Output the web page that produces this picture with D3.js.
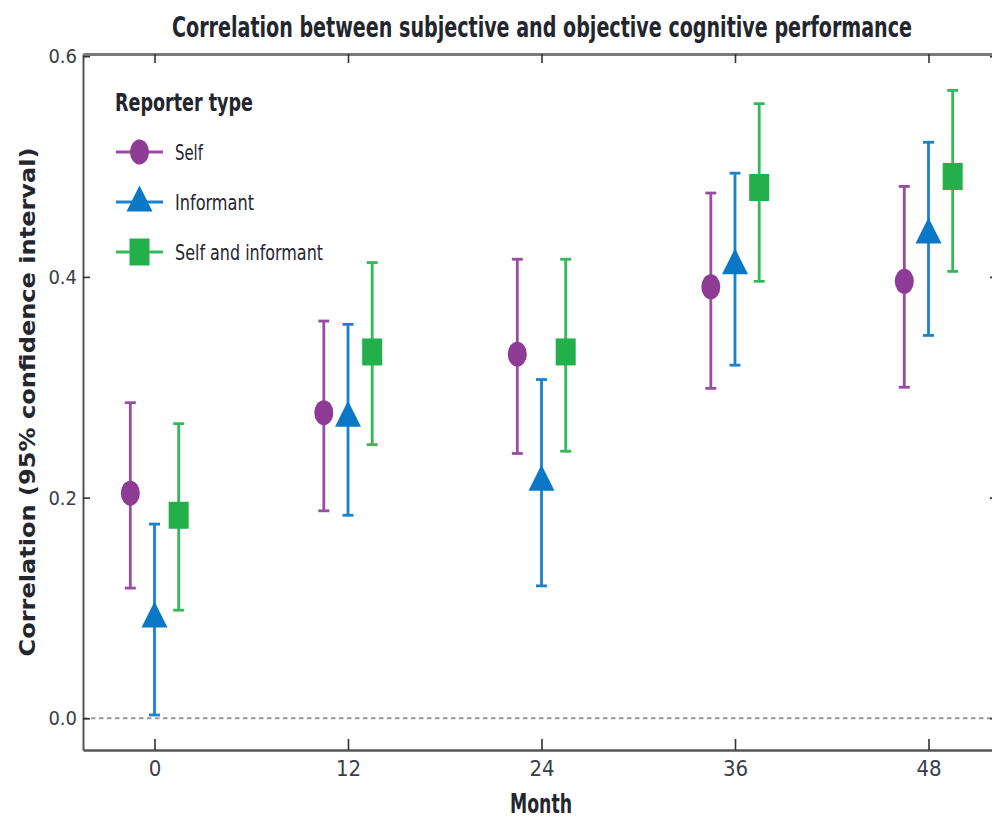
<!DOCTYPE html>
<html>
<head>
<meta charset="utf-8">
<script src="https://cdn.jsdelivr.net/npm/d3@7"></script>
<style>
  body { margin: 0; background: #fff; }
  svg { display: block; }
</style>
</head>
<body>
<script>
// Follow-up months (x categories)
const months = [0, 12, 24, 36, 48];

// Self report: correlation and 95% confidence interval
const selfR  = [0.204, 0.277, 0.330, 0.391, 0.396];
const selfLo = [0.118, 0.188, 0.240, 0.299, 0.300];
const selfHi = [0.286, 0.360, 0.416, 0.476, 0.482];

// Informant report
const infR  = [0.090, 0.272, 0.214, 0.410, 0.438];
const infLo = [0.003, 0.184, 0.120, 0.320, 0.347];
const infHi = [0.176, 0.357, 0.307, 0.494, 0.522];

// Self and informant
const bothR  = [0.184, 0.332, 0.332, 0.481, 0.491];
const bothLo = [0.098, 0.248, 0.242, 0.396, 0.405];
const bothHi = [0.267, 0.413, 0.416, 0.557, 0.569];

const seriesNames = ['Self', 'Informant', 'Self and informant'];
const yTicks = [0.0, 0.2, 0.4, 0.6];

const colors = ['#8e3b96', '#0a78c6', '#23b04b'];
const barColors = ['#9a4ca2', '#1a82cc', '#33b85a'];
const shapes = ['circle', 'triangle', 'square'];
const offsets = [-1.5, 0, 1.5];   // dodge in months

const narrow = '"Liberation Sans Narrow", "DejaVu Sans Condensed", "Roboto", sans-serif';
const textColor = '#24262e';

// Builds the table of series
const series = [
  { name: seriesNames[0], r: selfR, lo: selfLo, hi: selfHi },
  { name: seriesNames[1], r: infR,  lo: infLo,  hi: infHi },
  { name: seriesNames[2], r: bothR, lo: bothLo, hi: bothHi }
].map((s, k) => Object.assign(s, { color: colors[k], bar: barColors[k], shape: shapes[k], off: offsets[k] }));

const svg = d3.select('body').append('svg')
  .attr('width', 992)
  .attr('height', 818);

// Scales: data positions, then copies that span the whole frame
const x0 = d3.scaleLinear().domain([0, 48]).range([154.5, 928.5]);
const y0 = d3.scaleLinear().domain([0, 0.6]).range([718.3, 56.2]);
const x = x0.copy().domain([x0.invert(83), x0.invert(997)]).range([83, 997]);
const y = y0.copy().domain([y0.invert(750), y0.invert(54)]).range([750, 54]);

// Draws a marker of a given shape
function marker(g, shape, cx, cy, color) {
  if (shape === 'circle') {
    g.append('ellipse').attr('cx', cx).attr('cy', cy).attr('rx', 9.5).attr('ry', 12.5).attr('fill', color);
  } else if (shape === 'square') {
    g.append('rect').attr('x', cx - 10).attr('y', cy - 13.5).attr('width', 20).attr('height', 27).attr('fill', color);
  } else {
    const p = d3.path();
    p.moveTo(cx, cy - 17.5);
    p.lineTo(cx + 13, cy + 8.5);
    p.lineTo(cx - 13, cy + 8.5);
    p.closePath();
    g.append('path').attr('d', p.toString()).attr('fill', color);
  }
}

// Dashed zero line
svg.append('line')
  .attr('x1', 83).attr('x2', 997)
  .attr('y1', y(0)).attr('y2', y(0))
  .attr('stroke', '#999')
  .attr('stroke-width', 2)
  .attr('stroke-dasharray', '4.5,3.5');

// Axes
const xAxis = svg.append('g')
  .attr('transform', 'translate(0,750)')
  .call(d3.axisBottom(x).tickValues(months).tickSizeInner(-11).tickSizeOuter(0).tickPadding(10));

const topAxis = svg.append('g')
  .attr('transform', 'translate(0,54)')
  .call(d3.axisTop(x).tickValues(months).tickSizeInner(-9).tickSizeOuter(0).tickFormat(''));

const yAxis = svg.append('g')
  .attr('transform', 'translate(83,0)')
  .call(d3.axisLeft(y).tickValues(yTicks).tickSizeInner(-7).tickSizeOuter(0).tickPadding(6).tickFormat(d3.format('.1f')));

const rightAxis = svg.append('g')
  .attr('transform', 'translate(997,0)')
  .call(d3.axisRight(y).tickValues(yTicks).tickSizeInner(-7).tickSizeOuter(0).tickFormat(''));

xAxis.select('.domain').attr('stroke', '#555').attr('stroke-width', 2.5);
topAxis.select('.domain').attr('stroke', '#7a7a7a').attr('stroke-width', 3);
yAxis.select('.domain').attr('stroke', '#555').attr('stroke-width', 2);
rightAxis.select('.domain').attr('stroke', '#555').attr('stroke-width', 2);

[xAxis, topAxis, yAxis, rightAxis].forEach(a => {
  a.selectAll('.tick line').attr('stroke', '#333').attr('stroke-width', 1.6);
});

xAxis.selectAll('.tick text')
  .attr('font-family', narrow)
  .attr('font-size', 22)
  .attr('fill', '#3a3d48');

yAxis.selectAll('.tick text')
  .attr('font-family', narrow)
  .attr('font-size', 20)
  .attr('fill', '#3a3d48');

// Error bars and markers
const plot = svg.append('g');
series.forEach(s => {
  months.forEach((m, i) => {
    const cx = x(m + s.off);
    const g = plot.append('g');
    g.append('line')
      .attr('x1', cx).attr('x2', cx)
      .attr('y1', y(s.lo[i])).attr('y2', y(s.hi[i]))
      .attr('stroke', s.bar).attr('stroke-width', 2.8);
    [s.lo[i], s.hi[i]].forEach(v => {
      g.append('line')
        .attr('x1', cx - 5.5).attr('x2', cx + 5.5)
        .attr('y1', y(v)).attr('y2', y(v))
        .attr('stroke', s.bar).attr('stroke-width', 2.8);
    });
    marker(g, s.shape, cx, y(s.r[i]), s.color);
  });
});

// Title
svg.append('text')
  .attr('x', 542).attr('y', 37)
  .attr('text-anchor', 'middle')
  .attr('font-family', narrow)
  .attr('font-weight', 'bold')
  .attr('font-size', 28)
  .attr('textLength', 740)
  .attr('lengthAdjust', 'spacingAndGlyphs')
  .attr('fill', textColor)
  .text('Correlation between subjective and objective cognitive performance');

// Axis titles
svg.append('text')
  .attr('x', 541).attr('y', 813)
  .attr('text-anchor', 'middle')
  .attr('font-family', narrow)
  .attr('font-weight', 'bold')
  .attr('font-size', 27)
  .attr('textLength', 62)
  .attr('lengthAdjust', 'spacingAndGlyphs')
  .attr('fill', textColor)
  .text('Month');

svg.append('text')
  .attr('transform', 'translate(35,402) rotate(-90)')
  .attr('text-anchor', 'middle')
  .attr('font-family', '"DejaVu Sans", sans-serif')
  .attr('font-weight', 'bold')
  .attr('font-size', 21)
  .attr('textLength', 509)
  .attr('lengthAdjust', 'spacingAndGlyphs')
  .attr('fill', textColor)
  .text('Correlation (95% confidence interval)');

// Legend
const legend = svg.append('g');
legend.append('text')
  .attr('x', 115).attr('y', 111)
  .attr('font-family', narrow)
  .attr('font-weight', 'bold')
  .attr('font-size', 24)
  .attr('textLength', 138)
  .attr('lengthAdjust', 'spacingAndGlyphs')
  .attr('fill', textColor)
  .text('Reporter type');

const legendWidths = [28, 79, 148];
series.forEach((s, k) => {
  const ly = 152 + k * 50;
  const g = legend.append('g');
  g.append('line')
    .attr('x1', 116).attr('x2', 163)
    .attr('y1', ly).attr('y2', ly)
    .attr('stroke', s.bar).attr('stroke-width', 3);
  marker(g, s.shape, 139.5, s.shape === 'triangle' ? ly + 1 : ly, s.color);
  g.append('text')
    .attr('x', 175).attr('y', ly + 8)
    .attr('font-family', narrow)
    .attr('font-size', 21)
    .attr('textLength', legendWidths[k])
    .attr('lengthAdjust', 'spacingAndGlyphs')
    .attr('fill', textColor)
    .text(s.name);
});
</script>
</body>
</html>
